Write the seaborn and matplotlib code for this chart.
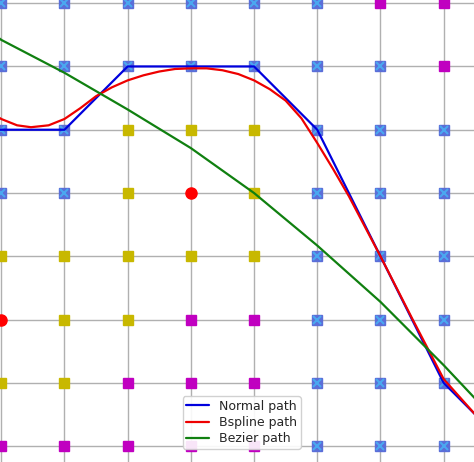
import matplotlib
matplotlib.use("Agg")
import matplotlib.pyplot as plt
import seaborn as sns
import pandas as pd

sns.set_style("white")

# grid cells: (x, row) with row 0 at top
visited = [(0,0),(1,0),(2,0),(3,0),(4,0),(5,0),
           (0,1),(1,1),(2,1),(3,1),(4,1),(5,1),(6,1),
           (0,2),(1,2),(5,2),(6,2),(7,2),
           (0,3),(1,3),(5,3),(6,3),(7,3),
           (5,4),(6,4),(7,4),(5,5),(6,5),(7,5),(5,6),(6,6),(7,6),(5,7),(6,7),(7,7)]
free = [(6,0),(7,0),(7,1),(3,5),(4,5),(2,6),(3,6),(4,6),(0,7),(1,7),(2,7),(3,7),(4,7)]
obstacle = [(2,2),(3,2),(4,2),(2,3),(4,3),(0,4),(1,4),(2,4),(3,4),(4,4),(1,5),(2,5),(0,6),(1,6)]
endpoints = [(3,3),(0,5)]

normal_x = [-1, 1, 2, 4, 5, 6, 7, 8]
normal_r = [2, 2, 1, 1, 2, 4, 6, 7]
bspline_x = [-0.5, -0.25, 0.0, 0.25, 0.47, 0.75, 1.0, 1.25, 1.5, 1.75, 2.0, 2.25, 2.5, 2.75, 3.0,
             3.25, 3.5, 3.75, 4.0, 4.25, 4.5, 4.75, 5.0, 5.25, 5.5, 6.0, 6.5, 7.0, 7.5]
bspline_r = [1.5, 1.68, 1.83, 1.93, 1.96, 1.93, 1.83, 1.66, 1.47, 1.33, 1.22, 1.14, 1.08, 1.04, 1.03,
             1.03, 1.06, 1.12, 1.22, 1.36, 1.54, 1.82, 2.21, 2.62, 3.05, 4.0, 4.98, 5.94, 6.5]
bezier_x = [-0.5, 0.0, 1.0, 2.0, 3.0, 4.0, 5.0, 6.0, 7.0, 7.5]
bezier_r = [0.2, 0.58, 1.1, 1.68, 2.29, 3.0, 3.83, 4.72, 5.72, 6.25]

fig = plt.figure(figsize=(4.74, 4.62), dpi=100)
ax = fig.add_axes([0, 0, 1, 1])

def ys(cells):
    return [c[0] for c in cells], [7 - c[1] for c in cells]

ax.grid(True, color="#b0b0b0", lw=1)
ax.set_axisbelow(True)
x, y = ys(free); ax.plot(x, y, "s", color="#c000c0", ms=7, ls="none")
x, y = ys(visited)
ax.plot(x, y, "s", color="#5b6ed8", ms=7, ls="none")
ax.plot(x, y, "x", color="#4aa8f0", ms=6, mew=1.5, ls="none")
x, y = ys(obstacle); ax.plot(x, y, "s", color="#c8b800", ms=7, ls="none")
x, y = ys(endpoints); ax.plot(x, y, "o", color="#ff0000", ms=8, ls="none")

df_n = pd.DataFrame({"x": normal_x, "y": [7 - r for r in normal_r]})
df_b = pd.DataFrame({"x": bspline_x, "y": [7 - r for r in bspline_r]})
df_z = pd.DataFrame({"x": bezier_x, "y": [7 - r for r in bezier_r]})
sns.lineplot(data=df_n, x="x", y="y", sort=False, color="#0000dd", lw=1.6, ax=ax, label="Normal path")
sns.lineplot(data=df_b, x="x", y="y", sort=False, color="#ee0000", lw=1.6, ax=ax, label="Bspline path")
sns.lineplot(data=df_z, x="x", y="y", sort=False, color="#108010", lw=1.6, ax=ax, label="Bezier path")

ax.set_xlim(-0.02, 7.48)
ax.set_ylim(-0.25, 7.05)
ax.set_xticks(range(0, 8)); ax.set_yticks(range(0, 8))
ax.tick_params(length=0, labelbottom=False, labelleft=False)
ax.set_xlabel(""); ax.set_ylabel("")
for s in ax.spines.values():
    s.set_visible(False)
ax.legend(loc="lower center", bbox_to_anchor=(0.51, 0.015), fontsize=9, framealpha=0.9,
          handlelength=1.8, borderpad=0.3, labelspacing=0.25)
fig.savefig("out.png", dpi=100)
